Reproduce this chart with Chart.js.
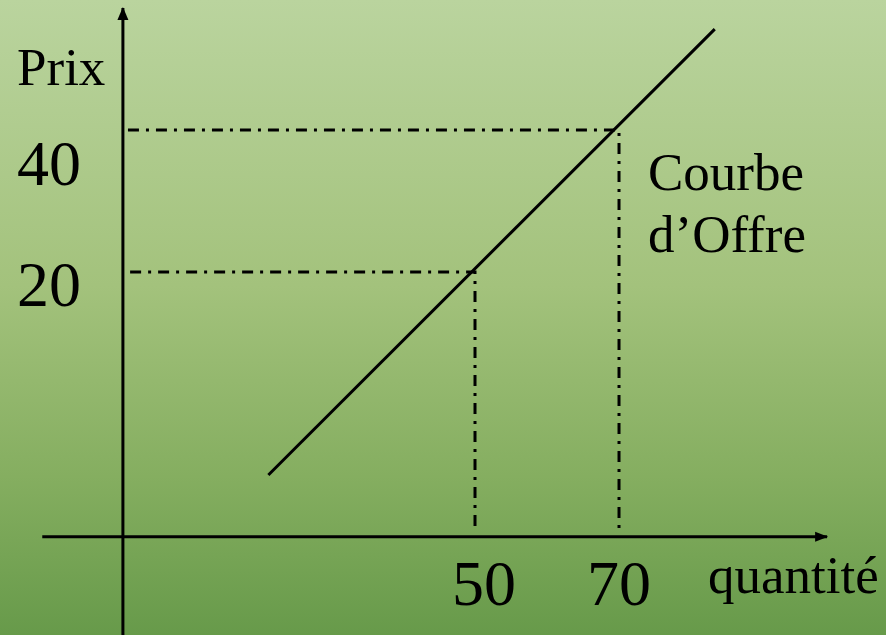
<!DOCTYPE html>
<html>
<head>
<meta charset="utf-8">
<script src="https://cdn.jsdelivr.net/npm/chart.js@4"></script>
<style>
  html, body { margin: 0; padding: 0; }
  body { width: 886px; height: 635px; overflow: hidden;
         background: linear-gradient(to bottom, #bad49e 0%, #a3c27c 45%, #85ae60 75%, #679a4a 100%); }
  #wrap { width: 886px; height: 635px; position: relative; }
</style>
</head>
<body>
<div id="wrap"><canvas id="c" width="886" height="635"></canvas></div>
<script>
// ---- data ----
const quantities = [50, 70];          // marked quantities (x)
const prices = [20, 40];              // marked prices (y)
const xTickLabels = ["50", "70"];
const yTickLabels = ["20", "40"];
const supplyQ = [21.3, 83.3];         // supply curve endpoints (quantity)
const supplyP = [-8.6, 54.2];         // supply curve endpoints (price)
const xAxisTitle = "quantité";
const yAxisTitle = "Prix";
const curveLabel = ["Courbe", "d\u2019Offre"];

// ---- scale setup (schematic axes) ----
const X_MIN = -15.97, X_MAX = 107.08;
const Y_MIN = -31.13, Y_MAX = 58.31;
const AXIS_X_AT = 1.1;     // x where vertical axis is drawn
const AXIS_Y_AT = -17.3;   // y where horizontal axis is drawn
const xAxisSpan = [-10.1, 98.9];
const yAxisSpan = [-31.13, 57.2];
const guideStart = [2.1, 1.8];   // left end of horizontal guides
const guideEnd = [-16.2, -16.7]; // bottom end of vertical guides

const serif = "'Liberation Serif', 'Times New Roman', serif";

const datasets = [];
// axes
datasets.push({ data: [{x: xAxisSpan[0], y: AXIS_Y_AT}, {x: xAxisSpan[1], y: AXIS_Y_AT}],
  borderColor: '#000', borderWidth: 3, pointRadius: 0, tension: 0 });
datasets.push({ data: [{x: AXIS_X_AT, y: yAxisSpan[0]}, {x: AXIS_X_AT, y: yAxisSpan[1]}],
  borderColor: '#000', borderWidth: 3, pointRadius: 0, tension: 0 });
// guides
quantities.forEach((q, i) => {
  datasets.push({ data: [{x: guideStart[i], y: prices[i]}, {x: q, y: prices[i]}, {x: q, y: guideEnd[i]}],
    borderColor: '#000', borderWidth: 3, borderDash: [11, 7, 3, 7], pointRadius: 0, tension: 0 });
});
// supply curve
datasets.push({ data: supplyQ.map((q, i) => ({x: q, y: supplyP[i]})),
  borderColor: '#000', borderWidth: 3, pointRadius: 0, tension: 0 });

const annot = {
  id: 'annot',
  afterDatasetsDraw(chart) {
    const ctx = chart.ctx, xs = chart.scales.x, ys = chart.scales.y;
    ctx.save();
    ctx.fillStyle = '#000';
    // arrowheads
    const ax = xs.getPixelForValue(xAxisSpan[1]), ay = ys.getPixelForValue(AXIS_Y_AT);
    ctx.beginPath(); ctx.moveTo(ax + 1, ay); ctx.lineTo(ax - 12, ay - 5); ctx.lineTo(ax - 12, ay + 5); ctx.closePath(); ctx.fill();
    const bx = xs.getPixelForValue(AXIS_X_AT), by = ys.getPixelForValue(yAxisSpan[1]);
    ctx.beginPath(); ctx.moveTo(bx, by - 1); ctx.lineTo(bx - 5.5, by + 12); ctx.lineTo(bx + 5.5, by + 12); ctx.closePath(); ctx.fill();
    // tick labels
    ctx.font = '64px ' + serif;
    ctx.textBaseline = 'alphabetic';
    ctx.textAlign = 'center';
    const yOff = [34, 55];
    quantities.forEach((q, i) => {
      ctx.fillText(xTickLabels[i], xs.getPixelForValue(q) + (i === 0 ? 9 : 0), ys.getPixelForValue(AXIS_Y_AT) + 68);
    });
    ctx.textAlign = 'left';
    prices.forEach((p, i) => {
      ctx.fillText(yTickLabels[i], 17, ys.getPixelForValue(p) + yOff[i]);
    });
    // titles
    ctx.font = '53px ' + serif;
    ctx.fillText(yAxisTitle, 17, 85);
    ctx.fillText(xAxisTitle, 708, 593);
    ctx.fillText(curveLabel[0], 648, 190);
    ctx.fillText(curveLabel[1], 648, 252);
    ctx.restore();
  }
};

new Chart(document.getElementById('c'), {
  type: 'line',
  data: { datasets },
  options: {
    responsive: false,
    animation: false,
    layout: { padding: 0 },
    plugins: { legend: { display: false }, tooltip: { enabled: false } },
    scales: {
      x: { type: 'linear', min: X_MIN, max: X_MAX, display: false },
      y: { type: 'linear', min: Y_MIN, max: Y_MAX, display: false }
    }
  },
  plugins: [annot]
});
</script>
</body>
</html>
